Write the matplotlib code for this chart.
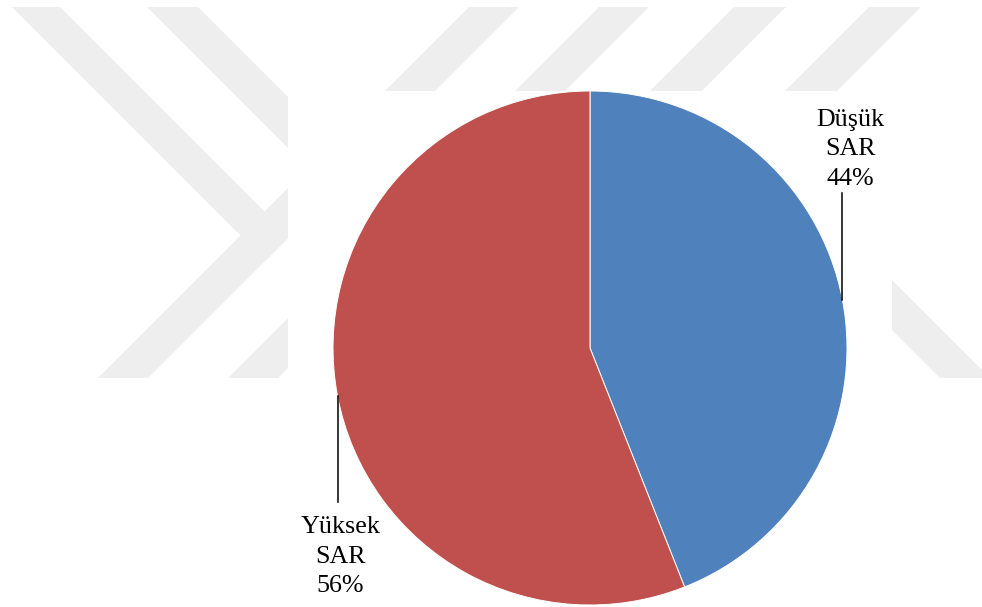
"""Pie chart of low / high SAR shares, drawn over the faint thesis watermark."""

import matplotlib

matplotlib.use("Agg")
import matplotlib.pyplot as plt
import numpy as np
from matplotlib.patches import Polygon, Rectangle

# data
CATEGORIES = ["Düşük\nSAR", "Yüksek\nSAR"]
SHARES = [44, 56]
COLORS = ["#4F81BD", "#C0504D"]

# watermark bands in pixel space: rising bands x+y in [lo, hi], falling bands x-y in [lo, hi]
RISING_BANDS = [(476, 526), (606, 656), (741, 793), (876, 928)]
FALLING_BANDS = [(5, 53, 526), (140, 191, 656)]  # last value: where the band stops (x+y)
FALLING_TAIL = (562, 612)
BAND_TOP, BAND_BOTTOM = 7, 378
WATERMARK_GRAY = "#eeeeee"

W, H = 982, 607
PIE_CENTER = (590, 348)
PIE_RADIUS = 257
PLOT_AREA = (288, 91, 892, 607)
LABEL_FONT = dict(fontsize=18.7, family="Liberation Serif", linespacing=1.45)


def draw_watermark(ax) -> None:
    for lo, hi in RISING_BANDS:
        pts = [(lo - BAND_TOP, BAND_TOP), (hi - BAND_TOP, BAND_TOP),
               (hi - BAND_BOTTOM, BAND_BOTTOM), (lo - BAND_BOTTOM, BAND_BOTTOM)]
        ax.add_patch(Polygon(pts, closed=True, facecolor=WATERMARK_GRAY, edgecolor="none"))
    for lo, hi, cap in FALLING_BANDS:
        pts = [(lo + BAND_TOP, BAND_TOP), (hi + BAND_TOP, BAND_TOP),
               ((hi + cap) / 2, (cap - hi) / 2), ((lo + cap) / 2, (cap - lo) / 2)]
        ax.add_patch(Polygon(pts, closed=True, facecolor=WATERMARK_GRAY, edgecolor="none"))
    lo, hi = FALLING_TAIL
    start = 200
    pts = [(lo + start, start), (hi + start, start),
           (hi + BAND_BOTTOM, BAND_BOTTOM), (lo + BAND_BOTTOM, BAND_BOTTOM)]
    ax.add_patch(Polygon(pts, closed=True, facecolor=WATERMARK_GRAY, edgecolor="none"))

    x0, y0, x1, y1 = PLOT_AREA
    ax.add_patch(Rectangle((x0, y0), x1 - x0, y1 - y0 + 5, facecolor="white", edgecolor="none"))
    ax.set_xlim(0, W)
    ax.set_ylim(H, 0)
    ax.axis("off")


def draw_pie(ax) -> None:
    ax.pie(
        SHARES,
        colors=COLORS,
        startangle=90,
        counterclock=False,
        radius=1.0,
        wedgeprops=dict(edgecolor="white", linewidth=0.7),
    )
    cx, cy = PIE_CENTER
    ax.set_xlim(-cx / PIE_RADIUS, (W - cx) / PIE_RADIUS)
    ax.set_ylim(-(H - cy) / PIE_RADIUS, cy / PIE_RADIUS)
    ax.set_aspect("auto")
    ax.axis("off")

    total = float(sum(SHARES))
    start = 90.0
    for label, share in zip(CATEGORIES, SHARES):
        sweep = 360.0 * share / total
        mid = np.deg2rad(start - sweep / 2)
        start -= sweep
        px, py = np.cos(mid), np.sin(mid)
        text = f"{label}\n{share / total:.0%}"
        if py > 0:
            ax.plot([px, px], [py, 0.603], color="black", lw=1.1)
            ax.text(px + 0.03, 0.615, text, ha="center", va="bottom", **LABEL_FONT)
        else:
            ax.plot([px, px], [py, -0.599], color="black", lw=1.1)
            ax.text(px + 0.01, -0.654, text, ha="center", va="top", **LABEL_FONT)


def main() -> None:
    fig = plt.figure(figsize=(W / 100, H / 100), dpi=100)
    bg = fig.add_axes([0, 0, 1, 1])
    draw_watermark(bg)
    ax = fig.add_axes([0, 0, 1, 1])
    ax.patch.set_alpha(0)
    draw_pie(ax)
    fig.savefig("out.png", dpi=100)


if __name__ == "__main__":
    main()
